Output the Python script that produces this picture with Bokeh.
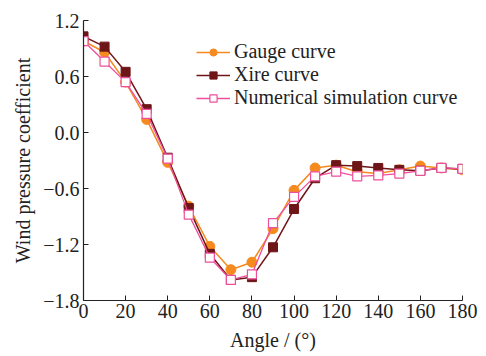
from bokeh.plotting import figure
from bokeh.models import FixedTicker, Range1d, Legend, LegendItem
from bokeh.embed import file_html
from bokeh.resources import INLINE

angles = [0, 10, 20, 30, 40, 50, 60, 70, 80, 90, 100, 110, 120, 130, 140, 150, 160, 170, 180]
gauge = [0.98, 0.86, 0.54, 0.14, -0.32, -0.79, -1.22, -1.47, -1.39, -1.03, -0.62, -0.38, -0.35, -0.42, -0.44, -0.40, -0.36, -0.38, -0.40]
xire = [1.03, 0.92, 0.65, 0.25, -0.27, -0.81, -1.30, -1.58, -1.55, -1.23, -0.82, -0.49, -0.35, -0.36, -0.38, -0.40, -0.41, -0.38, -0.39]
numerical = [0.98, 0.76, 0.54, 0.20, -0.28, -0.88, -1.34, -1.58, -1.52, -0.97, -0.69, -0.47, -0.42, -0.47, -0.46, -0.44, -0.41, -0.38, -0.39]
xticks = [0, 20, 40, 60, 80, 100, 120, 140, 160, 180]
yticks = [-1.8, -1.2, -0.6, 0.0, 0.6, 1.2]
ylabels = {-1.8: "\u22121.8", -1.2: "\u22121.2", -0.6: "\u22120.6", 0.0: "0.0", 0.6: "0.6", 1.2: "1.2"}

FONT = "Liberation Serif"
ORANGE = "#F58A1F"
DARK = "#6E1518"
PINK = "#EE4F9C"

p = figure(width=486, height=356, output_backend="svg", toolbar_location=None,
           x_range=Range1d(0, 180), y_range=Range1d(-1.8, 1.2),
           min_border_left=83, min_border_right=24, min_border_top=20, min_border_bottom=56)
p.outline_line_color = None
p.grid.visible = False
p.background_fill_color = "white"
p.border_fill_color = "white"

for ax in (p.xaxis[0], p.yaxis[0]):
    ax.axis_line_color = "#222222"
    ax.axis_line_width = 1.2
    ax.major_tick_line_color = "#222222"
    ax.major_tick_in = 5
    ax.major_tick_out = 0
    ax.minor_tick_line_color = None
    ax.major_label_text_font = FONT
    ax.major_label_text_font_size = "20px"
    ax.major_label_text_color = "#222222"
    ax.axis_label_text_font = FONT
    ax.axis_label_text_font_size = "20px"
    ax.axis_label_text_font_style = "normal"
    ax.axis_label_text_color = "#222222"

p.xaxis.ticker = FixedTicker(ticks=xticks)
p.yaxis.ticker = FixedTicker(ticks=yticks)
p.yaxis.major_label_overrides = ylabels
p.xaxis.axis_label = "Angle / (\u00b0)"
p.yaxis.axis_label = "Wind pressure coefficient"
p.xaxis.major_label_standoff = 3
p.yaxis.major_label_standoff = 4
p.xaxis.axis_label_standoff = 8
p.yaxis.axis_label_standoff = 6

l1 = p.line(angles, gauge, line_color=ORANGE, line_width=1.5)
m1 = p.scatter(angles, gauge, marker="circle", size=10, fill_color=ORANGE, line_color=ORANGE)
l2 = p.line(angles, xire, line_color=DARK, line_width=1.5)
m2 = p.scatter(angles, xire, marker="square", size=9, fill_color=DARK, line_color=DARK)
l3 = p.line(angles, numerical, line_color=PINK, line_width=1.3)
m3 = p.scatter(angles, numerical, marker="square", size=9, fill_color="white", line_color=PINK, line_width=1.2)

legend = Legend(items=[
    LegendItem(label="Gauge curve", renderers=[l1, m1]),
    LegendItem(label="Xire curve", renderers=[l2, m2]),
    LegendItem(label="Numerical simulation curve", renderers=[l3, m3]),
], location=(113, 191))
legend.border_line_color = None
legend.background_fill_alpha = 0
legend.label_text_font = FONT
legend.label_text_font_size = "20px"
legend.label_text_color = "#222222"
legend.glyph_width = 34
legend.glyph_height = 18
legend.label_height = 18
legend.spacing = -4
legend.padding = 2
legend.label_standoff = 4
p.add_layout(legend, "center")

open("out.html", "w").write(file_html(p, INLINE))
